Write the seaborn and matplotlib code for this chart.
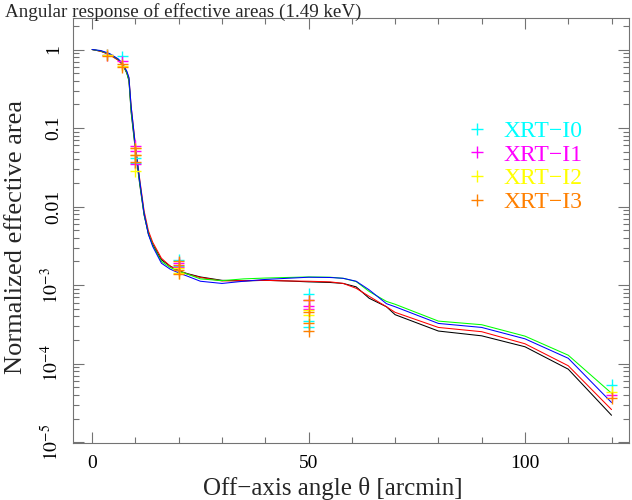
import pandas as pd
import matplotlib
matplotlib.use("Agg")
import matplotlib.pyplot as plt
import seaborn as sns
from matplotlib.ticker import MultipleLocator, LogLocator, NullFormatter

# Model curves: normalized effective area vs off-axis angle
theta = [0, 2, 4, 6, 7, 8, 8.5, 9, 10, 11, 12, 13, 14, 16, 18, 20, 22, 25, 30, 35,
         40, 45, 50, 55, 58, 61, 64, 68, 70, 80, 90, 100, 110, 120]
area_black = [1.0, 0.95, 0.87, 0.74, 0.65, 0.50, 0.40, 0.16, 0.052, 0.019, 0.0078, 0.0045,
              0.0033, 0.0021, 0.00175, 0.00152, 0.0014, 0.00127, 0.00115, 0.00113, 0.00115,
              0.00113, 0.0011, 0.00108, 0.00105, 0.00095, 0.00068, 0.00053, 0.00042, 0.00026,
              0.000226, 0.000164, 0.000085, 0.000022]
area_red = [1.0, 0.95, 0.86, 0.73, 0.64, 0.52, 0.43, 0.19, 0.060, 0.022, 0.0088, 0.0049,
            0.0035, 0.0022, 0.00175, 0.00152, 0.00138, 0.00125, 0.00113, 0.00114, 0.00115,
            0.00113, 0.00112, 0.0011, 0.00105, 0.00091, 0.00072, 0.00053, 0.00045, 0.000289,
            0.000255, 0.000179, 0.000094, 0.000026]
area_green = [1.0, 0.96, 0.88, 0.75, 0.66, 0.51, 0.41, 0.17, 0.055, 0.020, 0.0080, 0.0045,
              0.0032, 0.0020, 0.00168, 0.0015, 0.00138, 0.0012, 0.00114, 0.0012, 0.00123,
              0.00125, 0.00127, 0.00126, 0.00122, 0.00111, 0.00083, 0.00062, 0.00057, 0.000348,
              0.000313, 0.000224, 0.000128, 0.000042]
area_blue = [1.0, 0.97, 0.89, 0.76, 0.67, 0.53, 0.44, 0.19, 0.058, 0.021, 0.0082, 0.0044,
             0.0031, 0.0019, 0.0016, 0.00143, 0.0013, 0.00112, 0.00105, 0.00112, 0.00118,
             0.00122, 0.00126, 0.00125, 0.00122, 0.00112, 0.00087, 0.00058, 0.00053, 0.000325,
             0.000289, 0.000207, 0.000117, 0.000032]

# Measured points per detector
i0_x = [3.5, 7, 10, 10, 20, 20, 50, 50, 50, 120]
i0_y = [0.86, 0.82, 0.041, 0.036, 0.0021, 0.00175, 0.00078, 0.00035, 0.000295, 0.000054]
i1_x = [3.5, 7, 10, 10, 10, 20, 20, 50, 50, 50, 120]
i1_y = [0.85, 0.71, 0.059, 0.051, 0.035, 0.00192, 0.0017, 0.00064, 0.000545, 0.0005, 0.0000396]
i2_x = [3.5, 7, 10, 10, 10, 20, 20, 50, 50, 120]
i2_y = [0.86, 0.62, 0.055, 0.045, 0.028, 0.00163, 0.00143, 0.00048, 0.000415, 0.0000437]
i3_x = [3.5, 7, 7, 10, 10, 10, 20, 20, 20, 20, 50, 50, 50, 50, 120]
i3_y = [0.83, 0.6, 0.65, 0.055, 0.046, 0.037, 0.002, 0.0018, 0.00155, 0.0014, 0.00064,
        0.000457, 0.000325, 0.00026, 0.0000366]

detectors = ["XRT\u2212I0", "XRT\u2212I1", "XRT\u2212I2", "XRT\u2212I3"]
det_colors = ["#00ffff", "#ff00ff", "#ffff00", "#ff8000"]
curve_names = ["black", "red", "green", "blue"]
curve_colors = ["#000000", "#ff0000", "#00ff00", "#0000ff"]

lines = pd.concat([
    pd.DataFrame({"theta": theta, "area": a, "curve": n})
    for a, n in zip([area_black, area_red, area_green, area_blue], curve_names)
])
points = pd.concat([
    pd.DataFrame({"theta": x, "area": y, "det": d})
    for x, y, d in zip([i0_x, i1_x, i2_x, i3_x], [i0_y, i1_y, i2_y, i3_y], detectors)
])

sns.set_style("ticks")
plt.rcParams["font.family"] = ["Liberation Serif", "DejaVu Serif"]
plt.rcParams["mathtext.fontset"] = "stix"

fig = plt.figure(figsize=(6.32, 5.0), dpi=100)
ax = fig.add_axes([0.115, 0.115, 0.88, 0.849])

sns.lineplot(data=lines, x="theta", y="area", hue="curve", hue_order=curve_names,
             palette=curve_colors, linewidth=0.75, legend=False, ax=ax, estimator=None,
             sort=False)
sns.scatterplot(data=points, x="theta", y="area", hue="det", hue_order=detectors,
                palette=det_colors, marker="+", s=65, linewidth=1.0, ax=ax, zorder=3)

ax.set_yscale("log")
ax.set_xlim(-4.5, 124)
ax.set_ylim(0.99e-5, 2.52)

ax.xaxis.set_major_locator(MultipleLocator(50))
ax.xaxis.set_minor_locator(MultipleLocator(10))
yt = [1, 0.1, 0.01, 1e-3, 1e-4, 1e-5]
ax.set_yticks(yt, ["1", "0.1", "0.01", r"$10^{-3}$", r"$10^{-4}$", r"$10^{-5}$"])
ax.yaxis.set_minor_locator(LogLocator(base=10, subs=range(2, 10), numticks=20))
ax.yaxis.set_minor_formatter(NullFormatter())
for lab in ax.get_yticklabels():
    lab.set_rotation(90)
    lab.set_va("center")

frame_col = "0.45"
for sp in ax.spines.values():
    sp.set_color(frame_col)
    sp.set_linewidth(0.8)
ax.tick_params(which="both", direction="in", top=True, right=True, colors=frame_col,
               labelcolor="black", labelsize=14)
ax.tick_params(which="major", length=8, width=0.8)
ax.tick_params(axis="x", which="major", pad=9)
ax.tick_params(axis="y", which="major", pad=7.5)
ax.tick_params(which="minor", length=4, width=0.8)

ax.set_xlabel("Off\u2212axis angle \u03b8 [arcmin]", fontsize=18, va="center")
ax.set_ylabel("Normalized effective area", fontsize=19, va="center", ha="center")
ax.xaxis.set_label_coords(0.468, -0.109)
ax.yaxis.set_label_coords(-0.102, 0.485)
fig.text(0.008, 0.993, "Angular response of effective areas (1.49 keV)",
         fontsize=13.7, ha="left", va="top")

handles, labels = ax.get_legend_handles_labels()
ax.legend(handles, labels, loc="upper left", bbox_to_anchor=(0.689, 0.781),
          frameon=False, labelcolor=det_colors, fontsize=17, handletextpad=0.6,
          labelspacing=0.09, borderaxespad=0, handlelength=1.0)

fig.savefig("out.png", dpi=100)
